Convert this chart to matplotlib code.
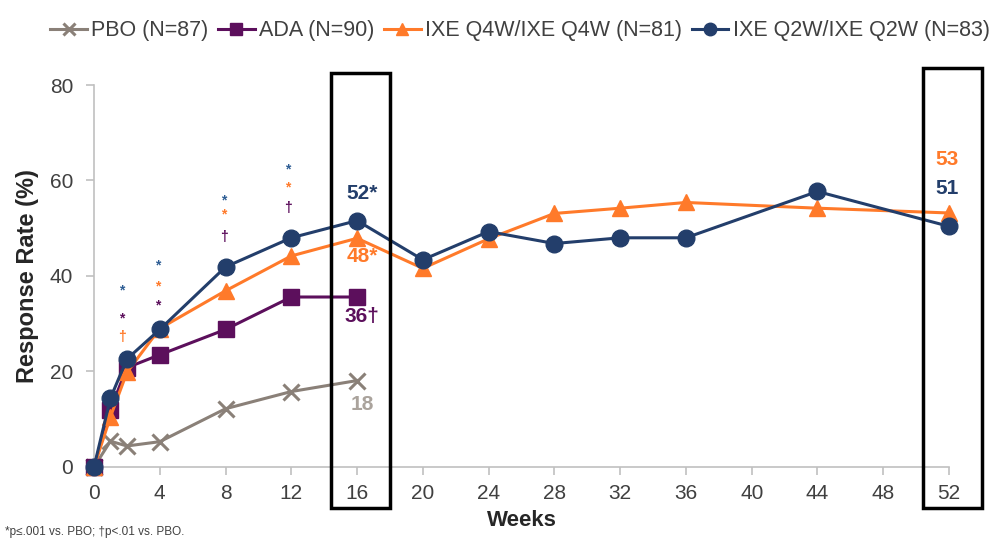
import matplotlib
matplotlib.use('Agg')
import matplotlib.pyplot as plt
from matplotlib.patches import Rectangle

plt.rcParams['font.family'] = ['Liberation Sans', 'DejaVu Sans']

# Data
weeks_pbo = [0, 1, 2, 4, 8, 12, 16]
pbo = [0, 5.4, 4.4, 5.3, 12.2, 15.8, 18.1]

weeks_ada = [0, 1, 2, 4, 8, 12, 16]
ada = [0, 12.0, 20.8, 23.5, 28.8, 35.6, 35.6]

weeks_ixe = [0, 1, 2, 4, 8, 12, 16, 20, 24, 28, 32, 36, 44, 52]
ixe_q4w = [0, 10.5, 19.8, 29.0, 36.9, 44.2, 47.9, 41.6, 47.8, 53.1, 54.2, 55.4, 54.2, 53.2]
ixe_q2w = [0, 14.4, 22.6, 28.8, 41.9, 48.0, 51.6, 43.4, 49.3, 46.8, 48.0, 48.0, 57.7, 50.4]

series_labels = ['PBO (N=87)', 'ADA (N=90)', 'IXE Q4W/IXE Q4W (N=81)', 'IXE Q2W/IXE Q2W (N=83)']

c_pbo = '#8a8078'
c_ada = '#5c0f5c'
c_q4w = '#ff7a2a'
c_q2w = '#233e6b'
c_star = '#2e5d94'

# significance markers: (x, y, symbol, colour)
sig_marks = [
    (1.7, 36.9, '*', c_star), (1.7, 31.2, '*', c_ada), (1.7, 27.2, '†', c_q4w),
    (3.9, 42.2, '*', c_star), (3.9, 37.9, '*', c_q4w), (3.9, 33.9, '*', c_ada),
    (7.9, 55.9, '*', c_star), (7.9, 52.8, '*', c_q4w), (7.9, 48.2, '†', c_ada),
    (11.8, 62.4, '*', c_star), (11.8, 58.5, '*', c_q4w), (11.8, 54.2, '†', c_ada),
]

fig = plt.figure(figsize=(10, 5.38), dpi=100)
ax = fig.add_axes([0.094, 0.132, 0.855, 0.710])

ax.plot(weeks_pbo, pbo, color=c_pbo, lw=2.2, marker='x', ms=11, mew=2.2,
        label=series_labels[0], clip_on=False, zorder=3)
ax.plot(weeks_ada, ada, color=c_ada, lw=2.2, marker='s', ms=11,
        label=series_labels[1], clip_on=False, zorder=4)
ax.plot(weeks_ixe, ixe_q4w, color=c_q4w, lw=2.2, marker='^', ms=12,
        label=series_labels[2], clip_on=False, zorder=5)
ax.plot(weeks_ixe, ixe_q2w, color=c_q2w, lw=2.2, marker='o', ms=12,
        label=series_labels[3], clip_on=False, zorder=6)

for x, y, s, c in sig_marks:
    ax.text(x, y, s, color=c, ha='center', va='center', fontsize=10, fontweight='bold')

# end-point labels
ax.text(16.3, 57.2, '52*', color=c_q2w, ha='center', va='center', fontsize=15, fontweight='bold')
ax.text(16.3, 44.0, '48*', color=c_q4w, ha='center', va='center', fontsize=15, fontweight='bold')
ax.text(16.3, 31.5, '36†', color=c_ada, ha='center', va='center', fontsize=15, fontweight='bold')
ax.text(16.3, 13.0, '18', color='#aaa39c', ha='center', va='center', fontsize=15, fontweight='bold')
ax.text(51.9, 64.3, '53', color=c_q4w, ha='center', va='center', fontsize=15, fontweight='bold')
ax.text(51.9, 58.4, '51', color=c_q2w, ha='center', va='center', fontsize=15, fontweight='bold')

# highlight boxes
for x0, x1, y1 in [(14.4, 18.0, 82.5), (50.4, 54.0, 83.6)]:
    ax.add_patch(Rectangle((x0, -8.6), x1 - x0, y1 + 8.6, fill=False, ec='black',
                           lw=2.5, clip_on=False, zorder=7))

ax.set_xlim(0, 52)
ax.set_ylim(0, 80)
ax.set_xticks(range(0, 53, 4))
ax.set_yticks(range(0, 81, 20))
for side in ['top', 'right']:
    ax.spines[side].set_visible(False)
for side in ['left', 'bottom']:
    ax.spines[side].set_color('#c0c0c0')
    ax.spines[side].set_linewidth(1.2)
ax.tick_params(colors='#c0c0c0', labelcolor='#404040', labelsize=15, length=6, width=1.2)
ax.tick_params(axis='y', pad=9)
ax.tick_params(axis='x', pad=6)
ax.set_xlabel('Weeks', fontsize=16, fontweight='bold', color='#262626', labelpad=5)
ax.set_ylabel('Response Rate (%)', fontsize=17, fontweight='bold', color='#262626', labelpad=8)

fig.legend(loc='upper center', bbox_to_anchor=(0.52, 0.998), ncol=4, frameon=False,
           fontsize=15.5, handlelength=1.7, handletextpad=0.2, columnspacing=0.45,
           markerscale=0.75, labelcolor='#404040')

fig.text(0.005, 0.006, '*p≤.001 vs. PBO; †p<.01 vs. PBO.', fontsize=8.5, color='#404040')

fig.savefig('out.png', dpi=100)
